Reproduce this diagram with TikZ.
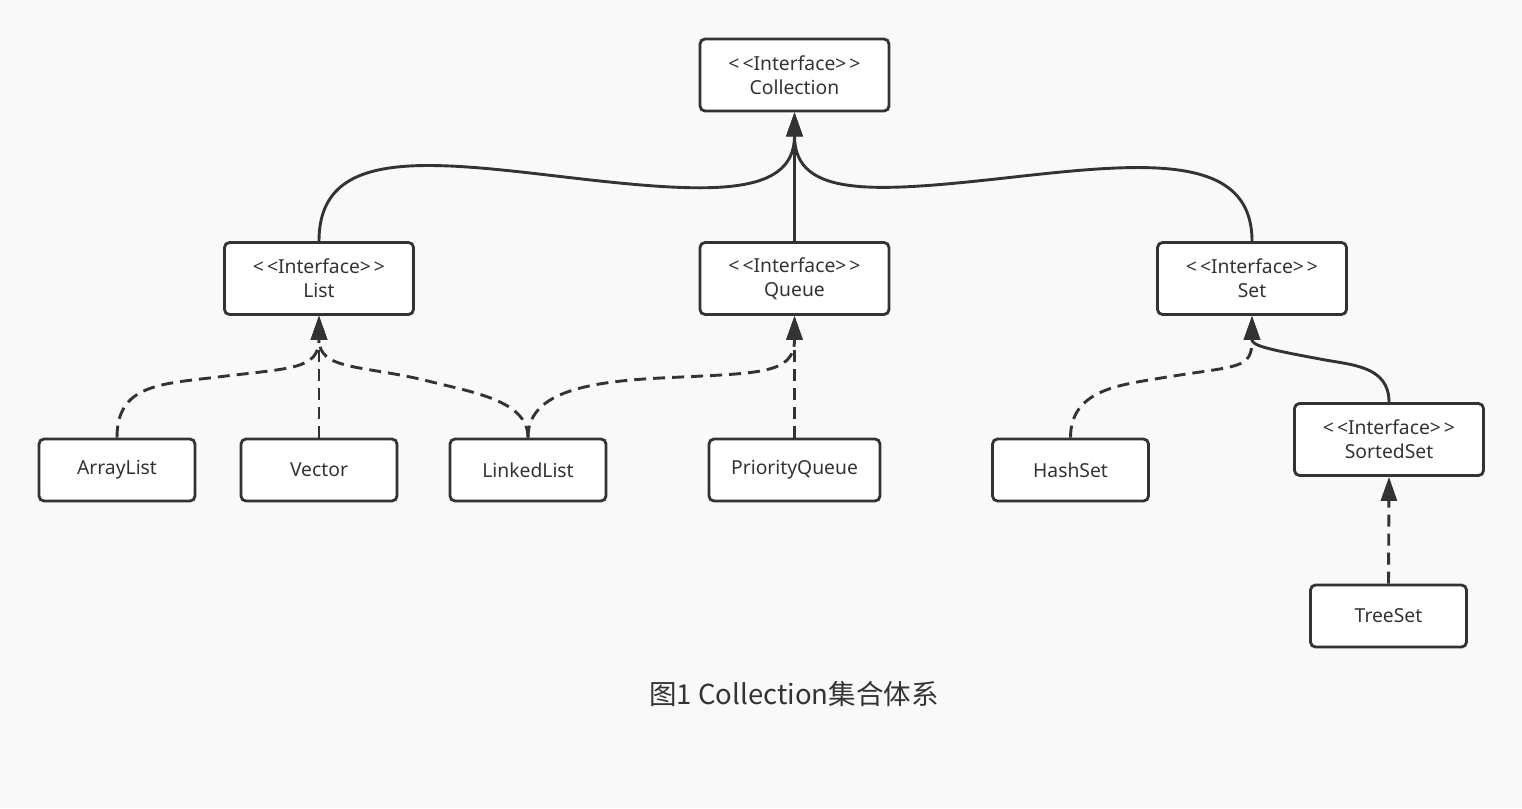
\documentclass[tikz,border=0pt]{standalone}
\usepackage{fontspec}
\setmainfont{Noto Sans}
\newfontfamily\cjk{Noto Sans CJK SC}
\usetikzlibrary{arrows.meta}
\definecolor{ink}{HTML}{333333}
\definecolor{bg}{HTML}{F9F9F9}
\newcommand{\ifc}{<\kern3pt<Interface>\kern3pt>}
\begin{document}
\begin{tikzpicture}[x=1pt,y=-1pt,
  box/.style={draw=ink, line width=2.8pt, fill=white, rounded corners=5pt, text=ink,
    align=center, font=\fontsize{19.3}{24}\selectfont, inner sep=0pt},
  ibox/.style={box, minimum width=189pt, minimum height=72pt},
  cbox/.style={box, minimum width=156pt, minimum height=62pt},
  conn/.style={draw=ink, line width=2.9pt, -{Triangle[length=24pt,width=16pt]}},
  dsh/.style={conn, dash pattern=on 12pt off 7pt}]
\fill[bg] (0,0) rectangle (1522,808);
\useasboundingbox (0,0) rectangle (1522,808);
\node[ibox] (coll) at (794.5,75) {\ifc\\Collection};
\node[ibox] (list) at (319,278.5) {\ifc\\List};
\node[ibox] (queue) at (794.5,278.5) {\ifc\\Queue};
\node[ibox] (set) at (1252,278.5) {\ifc\\Set};
\node[cbox] (al) at (117,470) {ArrayList};
\node[cbox] (vec) at (319,470) {Vector};
\node[cbox] (ll) at (528,470) {LinkedList};
\node[cbox, minimum width=171pt] (pq) at (794.5,470) {PriorityQueue};
\node[cbox] (hs) at (1070.5,470) {HashSet};
\node[ibox] (ss) at (1389,439.5) {\ifc\\SortedSet};
\node[cbox] (ts) at (1388.5,616) {TreeSet};
\node[text=ink, font=\cjk\fontsize{27.5}{32}\selectfont] (cap) at (794,694) {图1 Collection集合体系};
% solid
\draw[conn] (queue.north) -- (coll.south);
\draw[conn] (list.north) .. controls ++(0,-91) and (420,160) .. (556,176)
  .. controls (700,193) and ([yshift=-88pt]coll.south) .. (coll.south);
\draw[conn] (set.north) .. controls ++(0,-86) and (1150,162) .. (1023,176)
  .. controls (880,192) and ([yshift=-88pt]coll.south) .. (coll.south);
\draw[conn] (ss.north) .. controls ++(0,-37) and (1350,365) .. (1320,359)
  .. controls (1260,348) and ([yshift=-29pt]set.south) .. (set.south);
% dashed
\draw[dsh] (vec.north) -- (list.south);
\draw[dsh] (pq.north) -- (queue.south);
\draw[dsh] (ts.north) -- (ss.south);
\draw[dsh] (al.north) .. controls ++(0,-53) and (160,384) .. (218,377)
  .. controls (290,368) and ([yshift=-54pt]list.south) .. (list.south);
\draw[dsh] (ll.north) .. controls ++(0,-38) and (470,392) .. (424,380)
  .. controls (360,365) and ([yshift=-54pt]list.south) .. (list.south);
\draw[dsh] (ll.north) .. controls ++(0,-43) and (580,382) .. (661,378)
  .. controls (760,373) and ([yshift=-59pt]queue.south) .. (queue.south);
\draw[dsh] (hs.north) .. controls ++(0,-48) and (1120,385) .. (1161,378)
  .. controls (1240,365) and ([yshift=-54pt]set.south) .. (set.south);
\end{tikzpicture}
\end{document}
